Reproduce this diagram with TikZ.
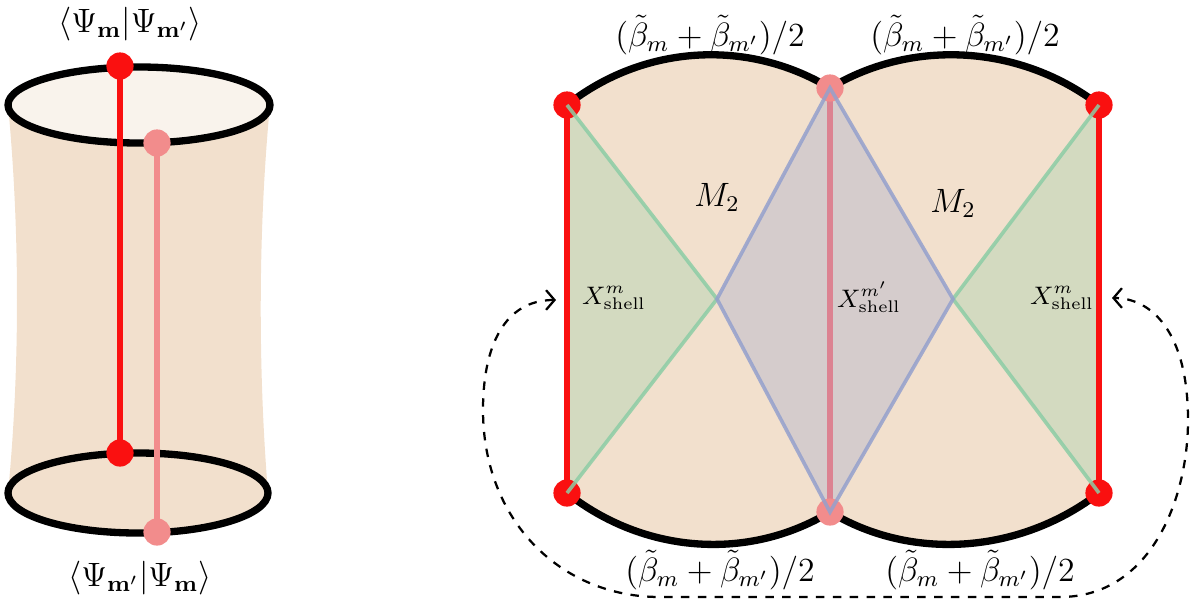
\documentclass[tikz,border=0pt]{standalone}
\usepackage{amsmath,amssymb}
\usepackage{xcolor}
\usepackage{tikz}
\usetikzlibrary{arrows.meta,positioning,calc}
\definecolor{tube}{RGB}{242,224,205}
\definecolor{lid}{RGB}{249,243,236}
\definecolor{ket}{RGB}{250,16,16}
\definecolor{bra}{RGB}{242,140,140}
\definecolor{shellgreen}{RGB}{140,205,165}
\definecolor{shellblue}{RGB}{148,160,204}
\definecolor{midpink}{RGB}{220,130,145}
\newcommand{\half}{(\tilde\beta_m+\tilde\beta_{m'})/2}

\begin{document}
\begin{tikzpicture}[x=0.0125cm,y=-0.0125cm,
  rim/.style={line width=2.6pt},
  dot/.style={circle,inner sep=0pt,minimum size=0.34cm},
  wire/.style={line width=2.1pt},
  cut/.style={line width=1.3pt,opacity=0.85}]
\useasboundingbox (0,0) rectangle (1198,602);
% left: the cylinder
\fill[tube] (8,105) -- (270,105) .. controls (258,230) and (258,370) .. (268,493)
   -- (8,493) .. controls (20,370) and (20,230) .. (8,105) -- cycle;
\fill[tube] (138,493) ellipse [x radius=130,y radius=40];
\draw[rim,fill=lid] (139,105) ellipse [x radius=131,y radius=38];
\coordinate (ka) at (120,66);  \coordinate (kb) at (120,453);
\coordinate (ba) at (157,143); \coordinate (bb) at (157,532);
\draw[ket,wire] (ka) -- (kb);
\draw[rim] (138,493) ellipse [x radius=130,y radius=40];
\draw[bra,wire] (ba) -- (bb);
\foreach \p in {ka,kb} \node[dot,fill=ket] (d\p) at (\p){};
\foreach \p in {ba,bb} \node[dot,fill=bra] (d\p) at (\p){};
\node[font=\large] (top) at (130,24){$\langle\Psi_{\mathbf{m}}|\Psi_{\mathbf{m}'}\rangle$};
\node[font=\large] (bot) at (140,578){$\langle\Psi_{\mathbf{m}'}|\Psi_{\mathbf{m}}\rangle$};
% right: two copies of M_2 glued along the shells
\coordinate (tl) at (567,105);  \coordinate (bl) at (567,493);
\coordinate (tm) at (830,88);   \coordinate (bm) at (830,512);
\coordinate (tr) at (1099,105); \coordinate (br) at (1099,493);
\coordinate (cl) at (717,299);  \coordinate (cr) at (953,299);
\fill[tube] (tl) .. controls (643,45) and (747,38) .. (tm)
   .. controls (913,38) and (1021,45) .. (tr) -- (br)
   .. controls (1021,553) and (913,562) .. (bm)
   .. controls (747,562) and (643,553) .. (bl) -- cycle;
\fill[shellgreen,opacity=0.3] (tl) -- (cl) -- (bl) -- cycle;
\fill[shellgreen,opacity=0.3] (tr) -- (cr) -- (br) -- cycle;
\fill[shellblue,opacity=0.3] (tm) -- (cl) -- (bm) -- (cr) -- cycle;
\draw[rim] (tl) .. controls (643,45) and (747,38) .. (tm)
   .. controls (913,38) and (1021,45) .. (tr);
\draw[rim] (bl) .. controls (643,553) and (747,562) .. (bm)
   .. controls (913,562) and (1021,553) .. (br);
\draw[ket,wire] (tl) -- (bl);
\draw[ket,wire] (tr) -- (br);
\draw[midpink,wire] (tm) -- (bm);
\foreach \p in {tl,bl,tr,br} \node[dot,fill=ket] (d\p) at (\p){};
\foreach \p in {tm,bm} \node[dot,fill=bra] (d\p) at (\p){};
\draw[cut,shellgreen] (tl) -- (cl) -- (bl);
\draw[cut,shellgreen] (tr) -- (cr) -- (br);
\draw[cut,shellblue] (tm) -- (cl) -- (bm) -- (cr) -- cycle;
\node (ml) at (717,197){\large $M_2$};
\node (mr) at (953,203){\large $M_2$};
\node[font=\small] (xl) at (614,298){$X^{m}_{\text{shell}}$};
\node[font=\small] (xm) at (869,297){$X^{m'}_{\text{shell}}$};
\node[font=\small] (xr) at (1062,298){$X^{m}_{\text{shell}}$};
\foreach \x/\n in {710/ta,965/tb} \node[font=\large] (\n) at (\x,35){$\half$};
\foreach \x/\n in {720/ba,980/bb} \node[font=\large] (\n) at (\x,570){$\half$};
% identification of the two outer shells
\coordinate (ain) at (556,300);
\coordinate (aout) at (1112,298);
\draw[thick,dashed,{Straight Barb[length=3pt,width=7pt]}-{Straight Barb[length=3pt,width=7pt]}]
   (ain) .. controls (505,300) and (483,345) .. (483,410)
   .. controls (483,520) and (560,597) .. (660,597) -- (1060,597)
   .. controls (1150,597) and (1188,500) .. (1188,420)
   .. controls (1188,330) and (1150,298) .. (aout);
\end{tikzpicture}
\end{document}
